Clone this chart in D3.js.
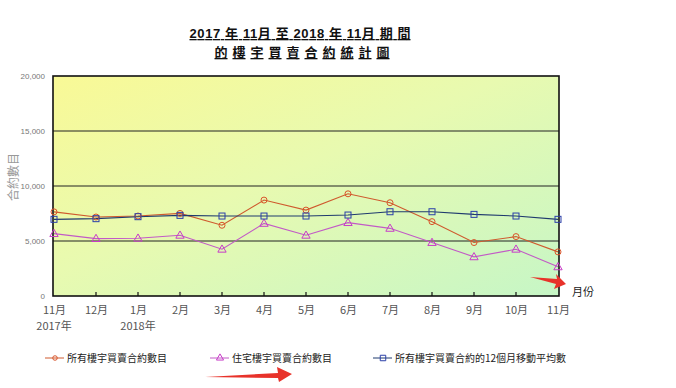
<!DOCTYPE html>
<html>
<head>
<meta charset="utf-8">
<script src="https://cdn.jsdelivr.net/npm/d3@7"></script>
<style>
  body { margin: 0; background: #fff; }
  svg { display: block; font-family: "Liberation Sans", "Noto Sans CJK TC", sans-serif; }
</style>
</head>
<body>
<svg width="676" height="388"></svg>
<script>
var months = ["11月", "12月", "1月", "2月", "3月", "4月", "5月", "6月", "7月", "8月", "9月", "10月", "11月"];
var yearLabels = ["2017年", "", "2018年", "", "", "", "", "", "", "", "", "", ""];
var yTicks = [0, 5000, 10000, 15000, 20000];

var allUnits = [7650, 7180, 7270, 7510, 6430, 8720, 7810, 9290, 8480, 6760, 4860, 5400, 4010];
var residential = [5670, 5220, 5250, 5520, 4250, 6600, 5520, 6670, 6150, 4860, 3560, 4250, 2650];
var movingAvg = [6970, 7030, 7210, 7330, 7270, 7270, 7270, 7360, 7660, 7660, 7420, 7270, 6970];

var seriesNames = ["所有樓宇買賣合約數目", "住宅樓宇買賣合約數目", "所有樓宇買賣合約的12個月移動平均數"];

var plotLeft = 54, plotRight = 558, plotTop = 76, plotBottom = 296;

var svg = d3.select("svg");

var x = d3.scalePoint()
  .domain(d3.range(months.length))
  .range([plotLeft, plotRight]);

var y = d3.scaleLinear()
  .domain([0, 20000])
  .range([plotBottom, plotTop]);

// background gradient
var defs = svg.append("defs");
var grad = defs.append("linearGradient")
  .attr("id", "bg")
  .attr("x1", 0).attr("y1", 0).attr("x2", 1).attr("y2", 1);
grad.append("stop").attr("offset", "0%").attr("stop-color", "#f9f996");
grad.append("stop").attr("offset", "45%").attr("stop-color", "#e8fab0");
grad.append("stop").attr("offset", "100%").attr("stop-color", "#c6f6c6");

svg.append("rect")
  .attr("x", plotLeft - 1).attr("y", plotTop)
  .attr("width", plotRight - plotLeft + 2).attr("height", plotBottom - plotTop)
  .attr("fill", "url(#bg)");

// gridlines
svg.append("g")
  .selectAll("line")
  .data(yTicks.slice(1, 4))
  .enter()
  .append("line")
    .attr("x1", plotLeft - 1).attr("x2", plotRight + 1)
    .attr("y1", d => y(d)).attr("y2", d => y(d))
    .attr("stroke", "#222")
    .attr("stroke-width", 1);

// frame
svg.append("rect")
  .attr("x", plotLeft - 1).attr("y", plotTop)
  .attr("width", plotRight - plotLeft + 2).attr("height", plotBottom - plotTop)
  .attr("fill", "none")
  .attr("stroke", "#111")
  .attr("stroke-width", 1.6);

// y axis labels
var yAxis = d3.axisLeft(y)
  .tickValues(yTicks)
  .tickSize(0)
  .tickPadding(8)
  .tickFormat(d3.format(","));

var yg = svg.append("g")
  .attr("transform", "translate(" + (plotLeft - 1) + ",0)")
  .call(yAxis);
yg.select(".domain").remove();
yg.selectAll("text")
  .attr("fill", "#777")
  .style("font-size", "8px");

svg.append("text")
  .text("合約數目")
  .attr("transform", "translate(18,177) rotate(-90)")
  .style("text-anchor", "middle")
  .style("font-family", "Noto Sans CJK TC")
  .style("font-size", "12px")
  .attr("fill", "#999");

// x axis
var xAxis = d3.axisBottom(x)
  .tickSize(0)
  .tickPadding(10)
  .tickFormat(i => months[i]);

var xg = svg.append("g")
  .attr("transform", "translate(0," + plotBottom + ")")
  .call(xAxis);
xg.select(".domain").remove();
xg.selectAll("text")
  .attr("fill", "#555")
  .style("font-family", "Noto Sans CJK TC")
  .style("font-size", "11px");

// inward tick marks
svg.append("g")
  .selectAll("line")
  .data(d3.range(1, months.length - 1))
  .enter()
  .append("line")
    .attr("x1", d => x(d)).attr("x2", d => x(d))
    .attr("y1", plotBottom).attr("y2", plotBottom - 4)
    .attr("stroke", "#111")
    .attr("stroke-width", 1.2);

svg.append("g")
  .selectAll("text")
  .data(yearLabels)
  .enter()
  .append("text")
    .text(d => d)
    .attr("x", (d, i) => x(i))
    .attr("y", plotBottom + 34)
    .style("text-anchor", "middle")
    .style("font-family", "Noto Sans CJK TC")
    .style("font-size", "11px")
    .attr("fill", "#555");

svg.append("text")
  .text("月份")
  .attr("x", 572).attr("y", 296)
  .style("font-family", "Noto Sans CJK TC")
  .style("font-size", "11px")
  .attr("fill", "#222");

// series lines
var line = d3.line()
  .x((d, i) => x(i))
  .y(d => y(d));

svg.append("path").datum(residential)
  .attr("d", line).attr("fill", "none")
  .attr("stroke", "#c25ac6").attr("stroke-width", 1.1);

svg.append("path").datum(allUnits)
  .attr("d", line).attr("fill", "none")
  .attr("stroke", "#cf5a2e").attr("stroke-width", 1.1);

svg.append("path").datum(movingAvg)
  .attr("d", line).attr("fill", "none")
  .attr("stroke", "#1f3a6e").attr("stroke-width", 1.1);

// markers
var triangle = d3.symbol().type(d3.symbolTriangle).size(30);

svg.append("g")
  .selectAll("path")
  .data(residential)
  .enter()
  .append("path")
    .attr("d", triangle)
    .attr("transform", (d, i) => "translate(" + x(i) + "," + (y(d) + 0.5) + ")")
    .attr("fill", "none")
    .attr("stroke", "#c83cc8")
    .attr("stroke-width", 1);

svg.append("g")
  .selectAll("circle")
  .data(allUnits)
  .enter()
  .append("circle")
    .attr("cx", (d, i) => x(i))
    .attr("cy", d => y(d))
    .attr("r", 3)
    .attr("fill", "none")
    .attr("stroke", "#d9542a")
    .attr("stroke-width", 1);

svg.append("g")
  .selectAll("rect")
  .data(movingAvg)
  .enter()
  .append("rect")
    .attr("x", (d, i) => x(i) - 3)
    .attr("y", d => y(d) - 3)
    .attr("width", 6).attr("height", 6)
    .attr("fill", "none")
    .attr("stroke", "#2b3fa8")
    .attr("stroke-width", 1);

// title
svg.append("text")
  .text("2017 年 11月 至 2018 年 11月 期 間")
  .attr("x", 300).attr("y", 38)
  .attr("textLength", 221).attr("lengthAdjust", "spacing")
  .style("text-anchor", "middle")
  .style("font-weight", "bold")
  .style("font-size", "13px")
  .style("text-decoration", "underline")
  .attr("fill", "#111");

svg.append("text")
  .text("的樓宇買賣合約統計圖")
  .attr("x", 302).attr("y", 57)
  .attr("textLength", 175).attr("lengthAdjust", "spacing")
  .style("text-anchor", "middle")
  .style("font-weight", "bold")
  .style("font-size", "13px")
  .style("text-decoration", "underline")
  .attr("fill", "#111");

// legend
var legendX = [45, 210, 373];
var legendColors = ["#d9542a", "#c83cc8", "#2b3fa8"];
var lineColors = ["#cf5a2e", "#c25ac6", "#1f3a6e"];
var ly = 358;

var lg = svg.append("g")
  .selectAll("g")
  .data(seriesNames)
  .enter()
  .append("g")
    .attr("transform", (d, i) => "translate(" + legendX[i] + "," + ly + ")");

lg.append("line")
  .attr("x1", 0).attr("x2", 19)
  .attr("stroke", (d, i) => lineColors[i])
  .attr("stroke-width", 1);

lg.append("path")
  .attr("d", (d, i) => i === 0 ? d3.symbol().type(d3.symbolCircle).size(16)()
                      : i === 1 ? d3.symbol().type(d3.symbolTriangle).size(22)()
                      : d3.symbol().type(d3.symbolSquare).size(30)())
  .attr("transform", "translate(10,0)")
  .attr("fill", "none")
  .attr("stroke", (d, i) => legendColors[i]);

lg.append("text")
  .text(d => d)
  .attr("x", 22).attr("y", 4)
  .style("font-family", "Noto Sans CJK TC")
  .style("font-size", "10px")
  .attr("fill", "#222");

// red annotation arrows
var arrows = [
  "M530,277 L557,279 L556,274 L566,284 L554,289 L556,284 Z",
  "M205,377 L278,373 L277,367 L292,374 L279,382 L278,378 Z"
];
svg.append("g")
  .selectAll("path")
  .data(arrows)
  .enter()
  .append("path")
    .attr("d", d => d)
    .attr("fill", "#e8322a");
</script>
</body>
</html>
